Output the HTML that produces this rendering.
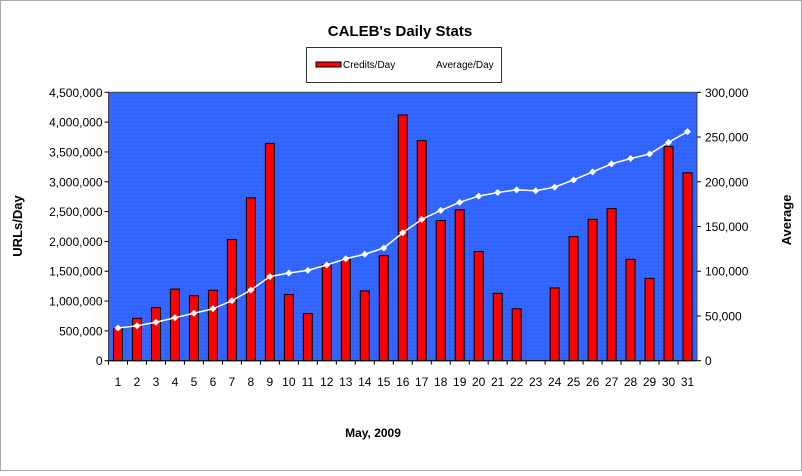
<!DOCTYPE html>
<html><head><meta charset="utf-8"><style>
body{margin:0;background:#fff;font-family:"Liberation Sans",Arial,sans-serif}
svg text{font-family:"Liberation Sans",Arial,sans-serif}
</style></head><body>
<svg id="chart" width="802" height="471" xmlns="http://www.w3.org/2000/svg">
<defs>
<pattern id="dots" width="4" height="4" patternUnits="userSpaceOnUse">
<rect width="4" height="4" fill="#3366ff"/><rect x="1" y="1" width="1" height="1" fill="#2a55d0"/>
</pattern>
</defs>
<rect x="0.5" y="0.5" width="801" height="470" fill="#fff" stroke="#555" stroke-dasharray="1,1"/>
<text x="400" y="36" text-anchor="middle" font-size="15" font-weight="bold">CALEB's Daily Stats</text>
<g>
<rect x="306.5" y="47.5" width="195" height="35" fill="#fff" stroke="#333"/>
<g><rect x="316" y="62" width="25" height="5" fill="#f00" stroke="#000"/><text x="343" y="68" font-size="10">Credits/Day</text></g>
<g><text x="436" y="68" font-size="10">Average/Day</text></g>
</g>
<rect x="108.5" y="92.3" width="588.5" height="268.4" fill="url(#dots)" stroke="#444"/>
<g id="bars"></g><g id="line"></g><g id="axes"></g>
<text x="373" y="437" text-anchor="middle" font-size="12" font-weight="bold">May, 2009</text>
<text transform="translate(22,226) rotate(-90)" text-anchor="middle" font-size="13" font-weight="bold">URLs/Day</text>
<text transform="translate(791,220) rotate(-90)" text-anchor="middle" font-size="13" font-weight="bold">Average</text>
</svg>
<script>
const days=[1,2,3,4,5,6,7,8,9,10,11,12,13,14,15,16,17,18,19,20,21,22,23,24,25,26,27,28,29,30,31];
const credits=[540000,710000,890000,1200000,1090000,1180000,2030000,2730000,3640000,1110000,790000,1610000,1700000,1170000,1760000,4120000,3690000,2350000,2530000,1830000,1130000,870000,0,1220000,2080000,2370000,2550000,1700000,1380000,3590000,3150000];
const averages=[36500,39000,43000,48000,53000,58000,67000,79000,94000,98000,101000,107000,114000,119000,126000,143000,158000,168000,177000,184000,188000,191000,190000,194000,202000,211000,220000,226000,231000,244000,256000];
const leftTicks=[0,500000,1000000,1500000,2000000,2500000,3000000,3500000,4000000,4500000];
const rightTicks=[0,50000,100000,150000,200000,250000,300000];
const L=108.5,R=697,T=92.3,B=360.7,NS="http://www.w3.org/2000/svg";
const bw=(R-L)/days.length;
const x=i=>L+bw*(i+0.5);
const yL=v=>B-(v/4500000)*(B-T);
const yR=v=>B-(v/300000)*(B-T);
const fmt=v=>v.toLocaleString('en-US');
function mk(tag,attrs,parent){const e=document.createElementNS(NS,tag);for(const k in attrs)e.setAttribute(k,attrs[k]);parent.appendChild(e);return e;}
const gb=document.getElementById('bars'),gl=document.getElementById('line'),ga=document.getElementById('axes');
credits.forEach((v,i)=>{
 const r=mk('rect',{x:x(i)-4.5,y:yL(v),width:9,height:B-yL(v),fill:'#f00',stroke:'#000','stroke-width':1},gb);
 
 
});
const pl=mk('polyline',{points:averages.map((v,i)=>x(i)+','+yR(v)).join(' '),fill:'none',stroke:'#fff','stroke-width':1.5},gl);


averages.forEach((v,i)=>{
 const p=mk('path',{d:`M${x(i)} ${yR(v)-3.5}l3.5 3.5l-3.5 3.5l-3.5 -3.5z`,fill:'#fff'},gl);
 
 
});
mk('line',{x1:L,y1:B,x2:R,y2:B,stroke:'#000'},ga);
leftTicks.forEach(v=>{
 mk('line',{x1:L-4,x2:L,y1:yL(v),y2:yL(v),stroke:'#000'},ga);
 const t=mk('text',{x:L-6,y:yL(v)+4.5,'text-anchor':'end','font-size':12},ga);t.textContent=fmt(v);
 
 
});
rightTicks.forEach(v=>{
 mk('line',{x1:R,x2:R+4,y1:yR(v),y2:yR(v),stroke:'#000'},ga);
 const t=mk('text',{x:R+8,y:yR(v)+4.5,'font-size':12},ga);t.textContent=fmt(v);
 
 
});
days.forEach((d,i)=>{
 mk('line',{x1:L+bw*i,x2:L+bw*i,y1:B,y2:B+4,stroke:'#000'},ga);
 const t=mk('text',{x:x(i),y:386,'text-anchor':'middle','font-size':12},ga);t.textContent=d;
 
 
});
</script>
</body></html>
